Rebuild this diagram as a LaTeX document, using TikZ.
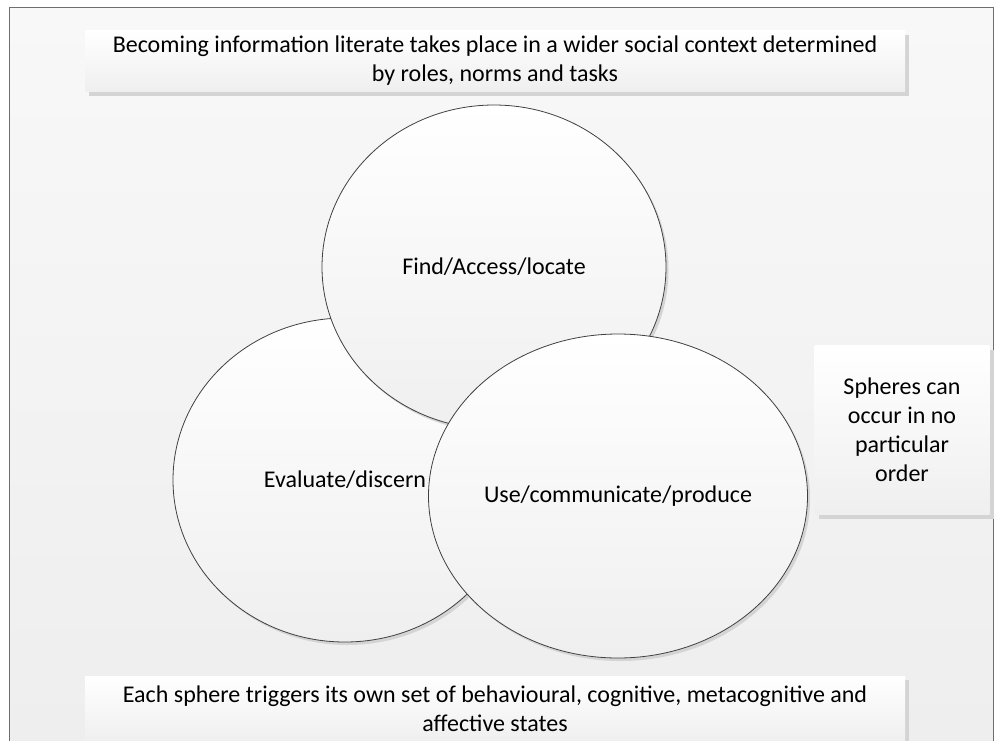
\documentclass[tikz,border=0pt]{standalone}
\usepackage{fontspec}
\setmainfont{Carlito}
\usetikzlibrary{shapes.geometric,shadows}
\definecolor{framegray}{HTML}{6E6E6E}
\definecolor{edgegray}{HTML}{404040}
\definecolor{bgtop}{HTML}{F8F8F8}
\definecolor{bgbot}{HTML}{EEEEEE}
\definecolor{fillbot}{HTML}{EFEFEF}
\definecolor{shadowgray}{HTML}{D4D4D4}
\tikzset{
  labelfont/.style={font=\fontsize{24}{29}\selectfont},
  sphere/.style={ellipse, draw=edgegray, line width=0.8pt,
    minimum width=344pt, minimum height=324pt, inner sep=0pt,
    top color=white, bottom color=fillbot,
    drop shadow={shadow xshift=2.5pt, shadow yshift=-3pt, fill=shadowgray, opacity=1},
    labelfont},
  notebox/.style={rectangle, inner sep=0pt,
    top color=white, bottom color=fillbot,
    drop shadow={shadow xshift=4pt, shadow yshift=-4pt, fill=shadowgray, opacity=1},
    align=center, labelfont}
}
\begin{document}
\begin{tikzpicture}[x=1pt,y=-1pt]
\useasboundingbox (0,0) rectangle (996,740);
% canvas background and frame
\path[top color=bgtop, bottom color=bgbot] (9,7) rectangle (993,740);
\draw[framegray, line width=0.8pt] (9,742) -- (9,7) -- (993,7) -- (993,742);

% heading note
\node[notebox, minimum width=820pt, minimum height=61pt] (context) at (495,61)
  {Becoming information literate takes place in a wider social context determined\\by roles, norms and tasks};

% the three spheres, stacked bottom to top
\node[sphere] (evaluate) at (345,480) {Evaluate/discern};
\node[sphere] (find) at (494,267) {Find/Access/locate};
\node[sphere] (use) at (618,496) {Use/communicate/produce};

% side note
\node[notebox, minimum width=175pt, minimum height=169pt] (order) at (902,430)
  {Spheres can\\occur in no\\particular\\order};

% footer note
\node[notebox, minimum width=820pt, minimum height=66pt] (states) at (495,709)
  {Each sphere triggers its own set of behavioural, cognitive, metacognitive and\\affective states};
\end{tikzpicture}
\end{document}
